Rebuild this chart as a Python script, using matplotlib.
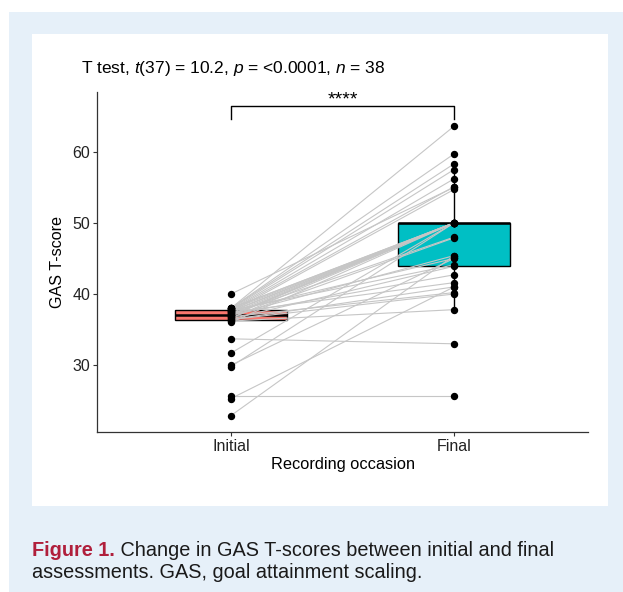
import matplotlib.pyplot as plt
from matplotlib.patches import Rectangle

plt.rcParams['font.family'] = ['Liberation Sans', 'DejaVu Sans']
plt.rcParams['mathtext.fontset'] = 'custom'
plt.rcParams['mathtext.rm'] = 'Liberation Sans'
plt.rcParams['mathtext.it'] = 'Liberation Sans:italic'

# Data: GAS T-scores per subject, initial -> final
groups = ['Initial', 'Final']
initial = [40.0, 38.0, 38.0, 38.0, 38.0, 38.0, 37.9, 37.8, 37.8, 37.7,
           37.7, 37.6, 37.6, 37.5, 37.5, 37.4, 37.3, 37.2, 37.1, 37.1,
           37.0, 37.0, 36.9, 36.8, 36.7, 36.6, 36.5, 36.4, 36.4, 36.2,
           36.0, 33.7, 31.7, 30.0, 29.8, 25.6, 25.3, 22.9]
final = [55.0, 63.6, 59.7, 50.0, 58.3, 50.0, 57.5, 50.0, 56.2, 44.1,
         55.1, 50.0, 45.0, 54.7, 50.0, 41.6, 50.0, 48.0, 50.0, 42.7,
         50.0, 45.4, 50.0, 40.2, 47.9, 50.0, 43.9, 41.0, 40.0, 37.8,
         50.0, 33.0, 50.0, 45.0, 50.0, 25.6, 41.0, 45.4]
box_colors = ['#F8766D', '#00BFC4']
y_ticks = [30, 40, 50, 60]

W, H = 623, 592
fig = plt.figure(figsize=(W / 100, H / 100), dpi=100)
fig.patch.set_facecolor('white')

# Background panels (blue frame, white plot card)
fig.patches.append(Rectangle((9 / W, 0), 1 - 9 / W, 1 - 12 / H, transform=fig.transFigure,
                             facecolor='#e6f0f9', edgecolor='none', zorder=-2))
fig.patches.append(Rectangle((32 / W, 1 - 506 / H), (608 - 32) / W, (506 - 34) / H,
                             transform=fig.transFigure, facecolor='white', edgecolor='none', zorder=-1))

ax = fig.add_axes([97 / W, 1 - 432 / H, (588 - 97) / W, (432 - 92) / H])
ax.set_facecolor('none')
ax.set_zorder(1)

bp = ax.boxplot([initial, final], positions=[1, 2], widths=0.5, patch_artist=True,
                showfliers=False, showcaps=False, zorder=1,
                medianprops=dict(color='black', linewidth=1.8),
                whiskerprops=dict(color='black', linewidth=1.0),
                boxprops=dict(edgecolor='black', linewidth=1.0))
for patch, c in zip(bp['boxes'], box_colors):
    patch.set_facecolor(c)

# Paired lines
for a, b in zip(initial, final):
    ax.plot([1, 2], [a, b], color='#c6c6c6', linewidth=0.8, zorder=2)

ax.plot([1] * len(initial), initial, 'o', color='black', markersize=4.3, zorder=3)
ax.plot([2] * len(final), final, 'o', color='black', markersize=4.3, zorder=3)

# Significance bracket
ax.plot([1, 1, 2, 2], [64.6, 66.4, 66.4, 64.6], color='black', linewidth=1.0, clip_on=False)
ax.text(1.5, 66.7, '****', ha='center', va='baseline', fontsize=14, clip_on=False)

ax.set_xlim(0.4, 2.6)
ax.set_ylim(20.6, 68.4)
ax.set_xticks([1, 2])
ax.set_xticklabels(groups)
ax.set_yticks(y_ticks)
ax.tick_params(labelsize=11.5, length=3, width=0.8, color='#333333', labelcolor='#222222', pad=2)
for s in ['top', 'right']:
    ax.spines[s].set_visible(False)
for s in ['left', 'bottom']:
    ax.spines[s].set_color('#333333')
    ax.spines[s].set_linewidth(0.9)

fig.text(343 / W, 1 - 465 / H, 'Recording occasion', ha='center', va='center', fontsize=11.8)
fig.text(57 / W, 1 - 262 / H, 'GAS T-score', ha='center', va='center', rotation=90, fontsize=11.6)
fig.text(81 / W, 1 - 68 / H, r'T test, $t$(37) = 10.2, $p$ = <0.0001, $n$ = 38',
         ha='left', va='center', fontsize=12.5)

# Caption: bold red label followed by plain text
t1 = fig.text(32 / W, 1 - 550 / H, 'Figure 1.', ha='left', va='center', fontsize=14.3,
              fontweight='bold', color='#b01f3c')
fig.canvas.draw()
bb = t1.get_window_extent()
fig.text(bb.x1 / W, 1 - 550 / H, ' Change in GAS T-scores between initial and final', ha='left',
         va='center', fontsize=14.3, color='#1a1a1a')
fig.text(32 / W, 1 - 572 / H, 'assessments. GAS, goal attainment scaling.', ha='left', va='center',
         fontsize=14.3, color='#1a1a1a')

fig.savefig('out.png', dpi=100)
